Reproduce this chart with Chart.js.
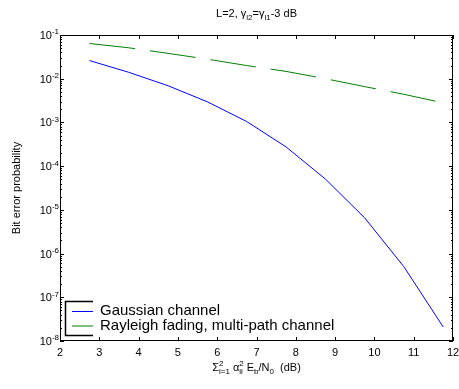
<!DOCTYPE html>
<html>
<head>
<meta charset="utf-8">
<script src="https://cdn.jsdelivr.net/npm/chart.js@4/dist/chart.umd.min.js"></script>
<style>
	body { margin: 0; background: #fff; }
	#wrap { width: 459px; height: 389px; }
</style>
</head>
<body>
<div id="wrap"><canvas id="chartBer" width="459" height="389"></canvas></div>
<script>
const snrDb = [2.75, 3.75, 4.75, 5.75, 6.75, 7.75, 8.75, 9.75, 10.75, 11.75];
const gaussianBer = [2.6e-2, 1.4e-2, 6.9e-3, 2.96e-3, 1.05e-3, 2.76e-4, 5.1e-5, 6.6e-6, 5.0e-7, 2.1e-8];
const rayleighBer = [6.4e-2, 5.1e-2, 3.8e-2, 2.8e-2, 2.0e-2, 1.47e-2, 1.0e-2, 6.6e-3, 4.4e-3, 2.8e-3];
const seriesLabels = ['Gaussian channel', 'Rayleigh fading, multi-path channel'];
const xTicks = [2, 3, 4, 5, 6, 7, 8, 9, 10, 11, 12];
const yExponents = [-1, -2, -3, -4, -5, -6, -7, -8];

const FONT = '"Liberation Sans", Arial, sans-serif';

// draws text with sub/superscript parts, returns width
function richText(ctx, parts, x, y, size, align) {
	const small = Math.round(size * 0.75);
	let w = 0;
	const items = parts.map(p => {
		if (p.t !== undefined) {
			ctx.font = size + 'px ' + FONT;
			return { p, w: ctx.measureText(p.t).width };
		}
		ctx.font = small + 'px ' + FONT;
		const a = p.sup ? ctx.measureText(p.sup).width : 0;
		const b = p.sub ? ctx.measureText(p.sub).width : 0;
		return { p, w: Math.max(a, b) };
	});
	items.forEach(i => w += i.w);
	let cx = align === 'center' ? x - w / 2 : (align === 'right' ? x - w : x);
	ctx.textBaseline = 'alphabetic';
	ctx.textAlign = 'left';
	for (const i of items) {
		const p = i.p;
		if (p.t !== undefined) {
			ctx.font = size + 'px ' + FONT;
			ctx.fillText(p.t, cx, y);
		} else {
			ctx.font = small + 'px ' + FONT;
			if (p.sup) ctx.fillText(p.sup, cx, y - size * 0.42);
			if (p.sub) ctx.fillText(p.sub, cx, y + size * 0.28);
		}
		cx += i.w;
	}
	return w;
}

const matlabAxes = {
	id: 'matlabAxes',
	afterDraw(chart) {
		const ctx = chart.ctx;
		const a = chart.chartArea;
		const xs = chart.scales.x, ys = chart.scales.y;
		ctx.save();
		ctx.strokeStyle = '#000';
		ctx.fillStyle = '#000';
		ctx.lineWidth = 1;
		ctx.strokeRect(a.left + 0.5, a.top + 0.5, a.right - a.left - 1, a.bottom - a.top - 1);

		ctx.beginPath();
		for (const v of xTicks) {
			const px = Math.round(xs.getPixelForValue(v)) + 0.5;
			ctx.moveTo(px, a.bottom); ctx.lineTo(px, a.bottom - 4);
			ctx.moveTo(px, a.top); ctx.lineTo(px, a.top + 4);
		}
		for (const e of yExponents) {
			for (let m = 1; m <= 9; m++) {
				const v = m * Math.pow(10, e);
				if (v > 0.1) continue;
				const py = Math.round(ys.getPixelForValue(v)) + 0.5;
				const len = m === 1 ? 4 : 2;
				ctx.moveTo(a.left, py); ctx.lineTo(a.left + len, py);
				ctx.moveTo(a.right, py); ctx.lineTo(a.right - len, py);
			}
		}
		ctx.stroke();

		// x tick labels
		ctx.font = '11px ' + FONT;
		ctx.textAlign = 'center';
		ctx.textBaseline = 'alphabetic';
		for (const v of xTicks) {
			ctx.fillText(String(v), xs.getPixelForValue(v), a.bottom + 15);
		}
		// y tick labels
		for (const e of yExponents) {
			const py = ys.getPixelForValue(Math.pow(10, e));
			richText(ctx, [{ t: '10' }, { sup: String(e) }], a.left - 1, py + 4, 11, 'right');
		}

		// title
		richText(ctx, [{ t: 'L=2, γ' }, { sub: 'l2' }, { t: '=γ' }, { sub: 'l1' }, { t: '-3 dB' }],
			(a.left + a.right) / 2, 17, 11, 'center');
		// x title
		richText(ctx, [{ t: 'Σ' }, { sup: '2', sub: 'l=1' }, { t: ' α' }, { sup: '2', sub: 'il' },
			{ t: ' E' }, { sub: 'b' }, { t: '/N' }, { sub: '0' }, { t: '  (dB)' }],
			(a.left + a.right) / 2, a.bottom + 30, 11, 'center');
		// y title
		ctx.save();
		ctx.translate(20, (a.top + a.bottom) / 2);
		ctx.rotate(-Math.PI / 2);
		ctx.font = '11px ' + FONT;
		ctx.textAlign = 'center';
		ctx.fillText('Bit error probability', 0, 0);
		ctx.restore();

		// legend
		const lx = a.left + 5, top = a.bottom - 40, bot = a.bottom - 6;
		ctx.beginPath();
		ctx.moveTo(lx + 28, top + 0.5); ctx.lineTo(lx + 0.5, top + 0.5);
		ctx.lineTo(lx + 0.5, bot + 0.5); ctx.lineTo(lx + 28, bot + 0.5);
		ctx.lineWidth = 1.5;
		ctx.stroke();
		chart.data.datasets.forEach((ds, i) => {
			const y = top + 10 + i * 14.5;
			ctx.beginPath();
			ctx.strokeStyle = ds.borderColor;
			ctx.lineWidth = 1;
			ctx.moveTo(lx + 7, y + 0.5); ctx.lineTo(lx + 28, y + 0.5);
			ctx.stroke();
			ctx.fillStyle = '#000';
			ctx.font = '15px ' + FONT;
			ctx.textAlign = 'left';
			ctx.textBaseline = 'middle';
			ctx.fillText(ds.label, lx + 35, y);
		});
		ctx.restore();
	}
};

new Chart(document.getElementById('chartBer'), {
	type: 'line',
	data: {
		datasets: [
			{ label: seriesLabels[0], data: snrDb.map((x, i) => ({ x, y: gaussianBer[i] })), borderColor: '#0000ff', borderWidth: 1, pointRadius: 0, tension: 0 },
			{ label: seriesLabels[1], data: snrDb.map((x, i) => ({ x, y: rayleighBer[i] })), borderColor: '#008000', borderWidth: 1, borderDash: [46, 15], pointRadius: 0, tension: 0 }
		]
	},
	options: {
		responsive: false,
		animation: false,
		layout: { padding: { left: 52, right: 6, top: 35, bottom: 40 } },
		plugins: { legend: { display: false }, tooltip: { enabled: false } },
		scales: {
			x: { type: 'linear', min: 2, max: 12, ticks: { display: false }, grid: { display: false }, border: { display: false } },
			y: { type: 'logarithmic', min: 1e-8, max: 1e-1, ticks: { display: false }, grid: { display: false }, border: { display: false } }
		}
	},
	plugins: [matlabAxes]
});
</script>
</body>
</html>
